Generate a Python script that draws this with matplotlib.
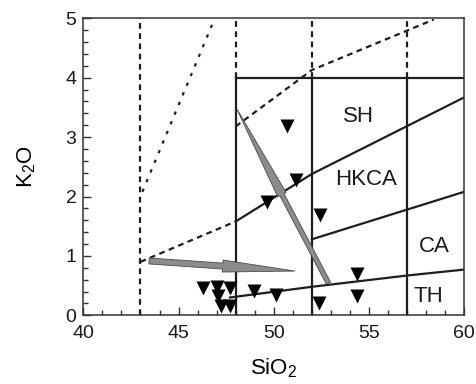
import numpy as np
import matplotlib
matplotlib.use("Agg")
import matplotlib.pyplot as plt
from matplotlib.patches import FancyArrowPatch
from matplotlib.ticker import MultipleLocator

plt.rcParams['font.family'] = ['Liberation Sans', 'DejaVu Sans']
plt.rcParams['mathtext.fontset'] = 'custom'
plt.rcParams['mathtext.rm'] = 'Liberation Sans'
plt.rcParams['mathtext.it'] = 'Liberation Sans'

# sample points (SiO2, K2O)
sio2 = [50.68, 51.17, 49.66, 52.43, 54.35, 54.35, 52.39, 50.1, 48.95,
        46.3, 47.0, 47.7, 47.05, 47.25, 47.7]
k2o = [3.18, 2.28, 1.91, 1.69, 0.70, 0.32, 0.20, 0.34, 0.41,
       0.46, 0.47, 0.46, 0.33, 0.16, 0.16]

# series boundaries
sh_x = [48, 52, 60]
sh_y = [1.58, 2.38, 3.67]
ca_x = [52, 60]
ca_y = [1.28, 2.08]
th_x = [47.7, 52, 57, 60]
th_y = [0.30, 0.48, 0.67, 0.77]
frame_x = [48, 52, 57]

# dashed extensions
low_dash_x = [43, 48]
low_dash_y = [0.90, 1.58]
up_dash_x = [48, 52, 58.4]
up_dash_y = [3.18, 4.13, 4.98]
steep_x = [43.1, 46.9]
steep_y = [2.08, 5.0]

labels = ['SH', 'HKCA', 'CA', 'TH']
label_x = [54.45, 54.85, 58.45, 58.1]
label_y = [3.34, 2.28, 1.15, 0.31]

# trend arrows: (tail, tip)
arrows = [((43.45, 0.915), (51.1, 0.745)),
          ((52.87, 0.54), (48.05, 3.48))]

fig = plt.figure(figsize=(4.77, 3.84), dpi=100)
ax = fig.add_axes([0.1747, 0.1789, 0.7987, 0.7734])

lc = '#1e1e1e'
dash = (0, (2.6, 2.0))

# dashed vertical lines
ax.plot([43, 43], [0, 5], color=lc, lw=1.6, ls=dash)
for x in frame_x:
    ax.plot([x, x], [4, 5], color=lc, lw=1.6, ls=dash)
    ax.plot([x, x], [0, 4], color=lc, lw=1.6)
ax.plot([48, 60], [4, 4], color=lc, lw=1.6)

ax.plot(sh_x, sh_y, color=lc, lw=1.6)
ax.plot(ca_x, ca_y, color=lc, lw=1.6)
ax.plot(th_x, th_y, color=lc, lw=1.6)

ax.plot(low_dash_x, low_dash_y, color=lc, lw=1.6, ls=dash)
ax.plot(up_dash_x, up_dash_y, color=lc, lw=1.6, ls=dash)
ax.plot(steep_x, steep_y, color=lc, lw=1.6, ls=(0, (1.5, 3.2)))

ax.plot(sio2, k2o, 'v', color='black', ms=10, mec='none')

arrow_sizes = [(52, 8.6, 4.3), (70, 6.8, 3.4)]
for (tail, tip), (hl, hw, tw) in zip(arrows, arrow_sizes):
    ap = FancyArrowPatch(tail, tip,
                         arrowstyle=f'simple,head_length={hl},head_width={hw},tail_width={tw}',
                         mutation_scale=1, shrinkA=0, shrinkB=0,
                         fc='#8c8c8c', ec='#4a4a4a', lw=0.6, zorder=4)
    ax.add_patch(ap)

for t, x, y in zip(labels, label_x, label_y):
    ax.text(x, y, t, fontsize=16, ha='center', va='center', color='#1a1a1a')

ax.set_xlim(40, 60)
ax.set_ylim(0, 5)
ax.xaxis.set_major_locator(MultipleLocator(5))
ax.xaxis.set_minor_locator(MultipleLocator(1))
ax.yaxis.set_major_locator(MultipleLocator(1))
ax.yaxis.set_minor_locator(MultipleLocator(0.2))
ax.tick_params(which='both', direction='in', colors='#333333', labelcolor='#1a1a1a',
               labelsize=14)
ax.tick_params(which='major', length=6, width=1)
ax.tick_params(which='minor', length=3.5, width=1)
ax.tick_params(axis='x', which='major', pad=7)
ax.tick_params(axis='y', which='major', pad=5)
for s in ax.spines.values():
    s.set_color('#333333')
    s.set_linewidth(1.1)

ax.set_xlabel('SiO$_2$', fontsize=16, labelpad=10)
ax.set_ylabel('K$_2$O', fontsize=16, labelpad=20)

fig.savefig('out.png', dpi=100)
